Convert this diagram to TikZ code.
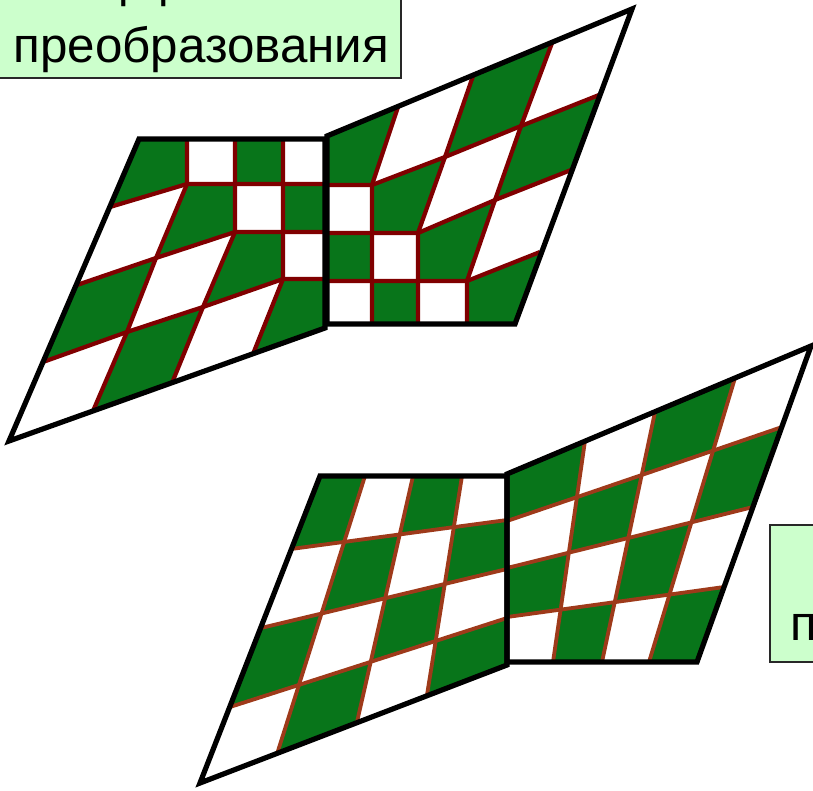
\documentclass[tikz,border=0pt]{standalone}
\usepackage{fontspec}
\setmainfont{Liberation Sans}
\definecolor{chkgreen}{RGB}{8,117,26}
\definecolor{redA}{RGB}{128,0,0}
\definecolor{redB}{RGB}{158,58,26}
\definecolor{labfill}{RGB}{204,255,204}
\definecolor{labborder}{RGB}{40,40,40}
\newcommand\fillquad[1]{%
 \foreach \i in {0,1,2,3}{\foreach \j in {0,1,2,3}{%
   \pgfmathtruncatemacro\ii{\i+1}\pgfmathtruncatemacro\jj{\j+1}\pgfmathtruncatemacro\pp{mod(\i+\j,2)}%
   \ifnum\pp=0 \fill[chkgreen] (#1\i\j) -- (#1\ii\j) -- (#1\ii\jj) -- (#1\i\jj) -- cycle;\fi}}}
\newcommand\gridquad[2]{%
 \foreach \k in {1,2,3}{%
   \draw[#2] (#10\k)--(#11\k)--(#12\k)--(#13\k)--(#14\k);
   \draw[#2] (#1\k0)--(#1\k1)--(#1\k2)--(#1\k3)--(#1\k4);}}
\newcommand\outlinequad[1]{\draw[outline] (#100)--(#140)--(#144)--(#104)--cycle;}
\begin{document}
\begin{tikzpicture}[x=1pt,y=-1pt,
  gridA/.style={draw=redA, line width=4.2pt, line join=miter},
  gridB/.style={draw=redB, line width=3.8pt, line join=miter},
  outline/.style={draw=black, line width=5.2pt, line join=miter},
  labelbox/.style={fill=labfill, draw=labborder, line width=1.7pt},
  labtext/.style={font=\fontsize{49.3}{58}\selectfont, inner sep=0pt, anchor=base}]
\useasboundingbox (0,0) rectangle (813,791);
\clip (0,0) rectangle (813,791);
% ---------- top figure, left part
\coordinate (a00) at (139,139); \coordinate (a10) at (187,139); \coordinate (a20) at (235,139); \coordinate (a30) at (283,139); \coordinate (a40) at (325,139);
\coordinate (a01) at (110,207); \coordinate (a11) at (187,184); \coordinate (a21) at (235,184); \coordinate (a31) at (283,184); \coordinate (a41) at (325,184);
\coordinate (a02) at (77,285);  \coordinate (a12) at (156,258); \coordinate (a22) at (235,232); \coordinate (a32) at (283,232); \coordinate (a42) at (325,232);
\coordinate (a03) at (43,362);  \coordinate (a13) at (127,332); \coordinate (a23) at (203,307); \coordinate (a33) at (283,279); \coordinate (a43) at (325,279);
\coordinate (a04) at (9,441);   \coordinate (a14) at (93,411);  \coordinate (a24) at (172,383); \coordinate (a34) at (253,354); \coordinate (a44) at (325,328);
% ---------- top figure, right part
\coordinate (b00) at (327,136); \coordinate (b10) at (398,107); \coordinate (b20) at (473,76);  \coordinate (b30) at (552,43);  \coordinate (b40) at (632,9);
\coordinate (b01) at (327,185); \coordinate (b11) at (372,185); \coordinate (b21) at (445,157); \coordinate (b31) at (521,126); \coordinate (b41) at (599,95);
\coordinate (b02) at (327,233); \coordinate (b12) at (372,233); \coordinate (b22) at (418,233); \coordinate (b32) at (495,200); \coordinate (b42) at (571,170);
\coordinate (b03) at (327,281); \coordinate (b13) at (372,281); \coordinate (b23) at (418,281); \coordinate (b33) at (467,281); \coordinate (b43) at (540,252);
\coordinate (b04) at (327,324); \coordinate (b14) at (372,324); \coordinate (b24) at (418,324); \coordinate (b34) at (467,324); \coordinate (b44) at (515,324);
% ---------- bottom figure, left part
\coordinate (c00) at (320,476); \coordinate (c10) at (365,476); \coordinate (c20) at (413,476); \coordinate (c30) at (462,476); \coordinate (c40) at (507,476);
\coordinate (c01) at (291,549); \coordinate (c41) at (507,520);
\coordinate (c02) at (261,628); \coordinate (c42) at (507,569);
\coordinate (c03) at (230,707); \coordinate (c43) at (507,618);
\coordinate (c04) at (200,783); \coordinate (c14) at (277,754); \coordinate (c24) at (357,722); \coordinate (c34) at (427,695); \coordinate (c44) at (507,665);
% ---------- bottom figure, right part
\coordinate (d00) at (507,474); \coordinate (d10) at (585,441); \coordinate (d20) at (655,412); \coordinate (d30) at (735,378); \coordinate (d40) at (811,346);
\coordinate (d01) at (507,521); \coordinate (d41) at (782,427);
\coordinate (d02) at (507,568); \coordinate (d42) at (753,507);
\coordinate (d03) at (507,617); \coordinate (d43) at (724,587);
\coordinate (d04) at (507,662); \coordinate (d14) at (553,662); \coordinate (d24) at (602,662); \coordinate (d34) at (649,662); \coordinate (d44) at (697,662);
\foreach \q in {c,d}{\foreach \i in {1,2,3}{\foreach \j in {1,2,3}{%
  \coordinate (\q\i\j) at (intersection of \q\i0--\q\i4 and \q0\j--\q4\j);}}}
% ---------- cells
\fillquad{a}\fillquad{b}\fillquad{c}\fillquad{d}
% ---------- grid lines
\gridquad{a}{gridA}\gridquad{b}{gridA}\gridquad{c}{gridB}\gridquad{d}{gridB}
% ---------- outlines
\outlinequad{a}\outlinequad{b}\outlinequad{c}\outlinequad{d}
% ---------- labels
\draw[labelbox] (-10,-90) rectangle (401,78);
\node[labtext] (lab1a) at (204,-3) {Аффинного};
\node[labtext] (lab1b) at (201.5,63) {преобразования};
\draw[labelbox] (770,525) rectangle (1000,662);
\node[labtext, anchor=base west] (lab2b) at (790,640) {преобразования};
\end{tikzpicture}
\end{document}
